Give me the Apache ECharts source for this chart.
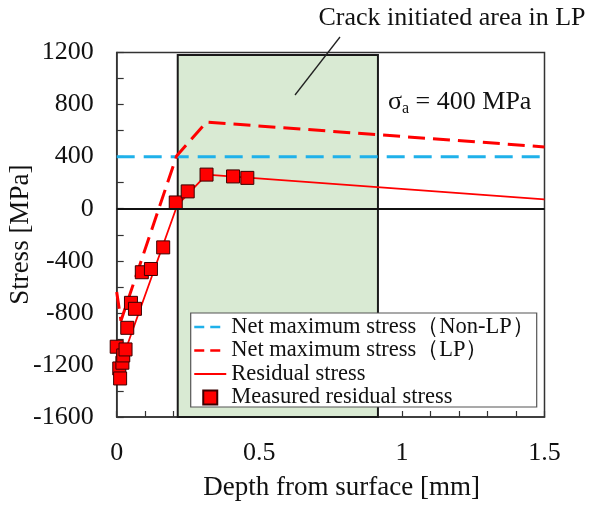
<!DOCTYPE html>
<html>
<head>
<meta charset="utf-8">
<script src="https://cdn.jsdelivr.net/npm/echarts@6/dist/echarts.min.js"></script>
<style>html,body{margin:0;padding:0;background:#fff}#c{width:593px;height:506px}</style>
</head>
<body>
<div id="c"></div>
<script>
// ---- data ----
var xTicks = [0, 0.5, 1, 1.5];
var yTicks = [-1600, -1200, -800, -400, 0, 400, 800, 1200];
var nonLPDepth = [0, 1.5];
var nonLPStress = [400, 400];
var lpDepth = [0, 0.015, 0.21, 0.315, 1.5];
var lpStress = [-640, -860, 405, 665, 475];
var resDepth = [0.031, 0.212, 0.315, 1.5];
var resStress = [-1085, 25, 262, 72];
var measDepth = [0.000, 0.009, 0.012, 0.020, 0.023, 0.031, 0.037, 0.050, 0.064, 0.088, 0.120, 0.163, 0.207, 0.249, 0.315, 0.408, 0.458];
var measStress = [-1060, -1227, -1304, -1183, -1127, -1081, -915, -723, -769, -488, -463, -297, 48, 133, 262, 248, 237];
var crackArea = [0.214, 0.916];
var crackAreaStress = [-1600, 1180];
var seriesNames = ['Net maximum stress\uFF08Non-LP\uFF09', 'Net maximum stress\uFF08LP\uFF09', 'Residual stress', 'Measured residual stress'];

function zip(a, b) { return a.map(function (v, i) { return [v, b[i]]; }); }

var FONT = '"Liberation Serif", "Times New Roman", serif';
var hiddenSym = { color: 'rgba(0,0,0,0)', borderColor: 'rgba(0,0,0,0)', borderWidth: 0, opacity: 0 };
var chart = echarts.init(document.getElementById('c'));
chart.setOption({
  animation: false,
  backgroundColor: '#fff',
  grid: { left: 116.7, right: 48.5, top: 52.5, bottom: 89, show: true, borderColor: '#333', borderWidth: 1.5,
    backgroundColor: 'transparent', outerBoundsMode: 'none', containLabel: false },
  xAxis: {
    type: 'value', min: xTicks[0], max: xTicks[xTicks.length - 1], interval: 0.5,
    name: 'Depth from surface [mm]', nameLocation: 'middle', nameGap: 57, nameMoveOverlap: false,
    nameTextStyle: { fontFamily: FONT, fontSize: 27, color: '#111', padding: [0, 0, 0, 22] },
    axisLine: { show: true, onZero: false, lineStyle: { color: '#333', width: 1.5 } },
    axisTick: { show: true, inside: true, length: 6, lineStyle: { color: '#333', width: 1.2 } },
    minorTick: { show: true, splitNumber: 5, length: 6, lineStyle: { color: '#333', width: 1.2 } },
    splitLine: { show: false },
    axisLabel: { fontFamily: FONT, fontSize: 26, color: '#111', margin: 23,
      formatter: function (v) { return String(v); } }
  },
  yAxis: {
    type: 'value', min: yTicks[0], max: yTicks[yTicks.length - 1], interval: 400,
    name: 'Stress [MPa]', nameLocation: 'middle', nameGap: 82, nameMoveOverlap: false,
    nameTextStyle: { fontFamily: FONT, fontSize: 27, color: '#111' },
    axisLine: { show: true, onZero: false, lineStyle: { color: '#333', width: 1.5 } },
    axisTick: { show: true, inside: true, length: 7, lineStyle: { color: '#333', width: 1.2 } },
    minorTick: { show: true, splitNumber: 2, length: 7, lineStyle: { color: '#333', width: 1.2 } },
    splitLine: { show: false },
    axisLabel: { fontFamily: FONT, fontSize: 26, color: '#111', margin: 23,
      formatter: function (v) { return String(v); } }
  },
  legend: {
    orient: 'vertical', left: 193, top: 315.5, padding: 0,
    itemWidth: 32, itemHeight: 14, itemGap: 0.5, itemTextGap: 4,
    textStyle: { fontFamily: FONT, fontSize: 22.5, lineHeight: 22, color: '#111' },
    z: 6,
    data: [
      { name: seriesNames[0], itemStyle: hiddenSym, lineStyle: { type: [10, 6], width: 2.5 } },
      { name: seriesNames[1], itemStyle: hiddenSym, lineStyle: { type: [10, 6], width: 2.5 } },
      { name: seriesNames[2], itemStyle: hiddenSym },
      { name: seriesNames[3], icon: 'path://M0,0 L10,0 L10,10 L0,10 Z' }
    ]
  },
  graphic: [
    { type: 'rect', z: 5, shape: { x: 190.7, y: 313, width: 346, height: 94 },
      style: { fill: '#fff', stroke: '#555', lineWidth: 1.2 } },
    { type: 'text', z: 5, x: 452, y: 18,
      style: { text: 'Crack initiated area in LP', font: '26px ' + FONT, fill: '#111', align: 'center', verticalAlign: 'middle' } },
    { type: 'line', z: 5, shape: { x1: 295, y1: 95, x2: 340, y2: 37 },
      style: { stroke: '#222', lineWidth: 1.3 } },
    { type: 'text', z: 5, x: 388, y: 102,
      style: { text: '{s|\u03C3}{sub|a}{s| = 400 MPa}', fill: '#111', verticalAlign: 'middle',
        rich: { s: { fontFamily: FONT, fontSize: 26, fill: '#111' },
                sub: { fontFamily: FONT, fontSize: 16, fill: '#111', padding: [14, 0, 0, 0] } } } }
  ],
  series: [
    {
      type: 'line', name: '_area', data: [], z: 1, silent: true,
      markArea: {
        silent: true,
        itemStyle: { color: '#d9ead3', borderColor: '#1a1a1a', borderWidth: 2 },
        data: [[{ coord: [crackArea[0], crackAreaStress[0]] }, { coord: [crackArea[1], crackAreaStress[1]] }]]
      },
      markLine: {
        silent: true, symbol: 'none', label: { show: false },
        lineStyle: { color: '#111', width: 1.8, type: 'solid' },
        data: [{ yAxis: 0 }]
      }
    },
    {
      type: 'line', name: seriesNames[0], data: zip(nonLPDepth, nonLPStress), z: 3,
      symbol: 'none', lineStyle: { color: '#1fb1ea', width: 3, type: [18, 9] }, itemStyle: { color: '#1fb1ea' }
    },
    {
      type: 'line', name: seriesNames[1], data: zip(lpDepth, lpStress), z: 3,
      symbol: 'none', lineStyle: { color: '#ff0000', width: 3, type: [17, 8] }, itemStyle: { color: '#ff0000' }
    },
    {
      type: 'line', name: seriesNames[2], data: zip(resDepth, resStress), z: 3,
      symbol: 'none', lineStyle: { color: '#ff0000', width: 1.8 }, itemStyle: { color: '#ff0000' }
    },
    {
      type: 'scatter', name: seriesNames[3], data: zip(measDepth, measStress), z: 4,
      symbol: 'rect', symbolSize: 13,
      itemStyle: { color: '#ff0000', borderColor: '#3a0000', borderWidth: 1, opacity: 1 }
    }
  ]
});
</script>
</body>
</html>
